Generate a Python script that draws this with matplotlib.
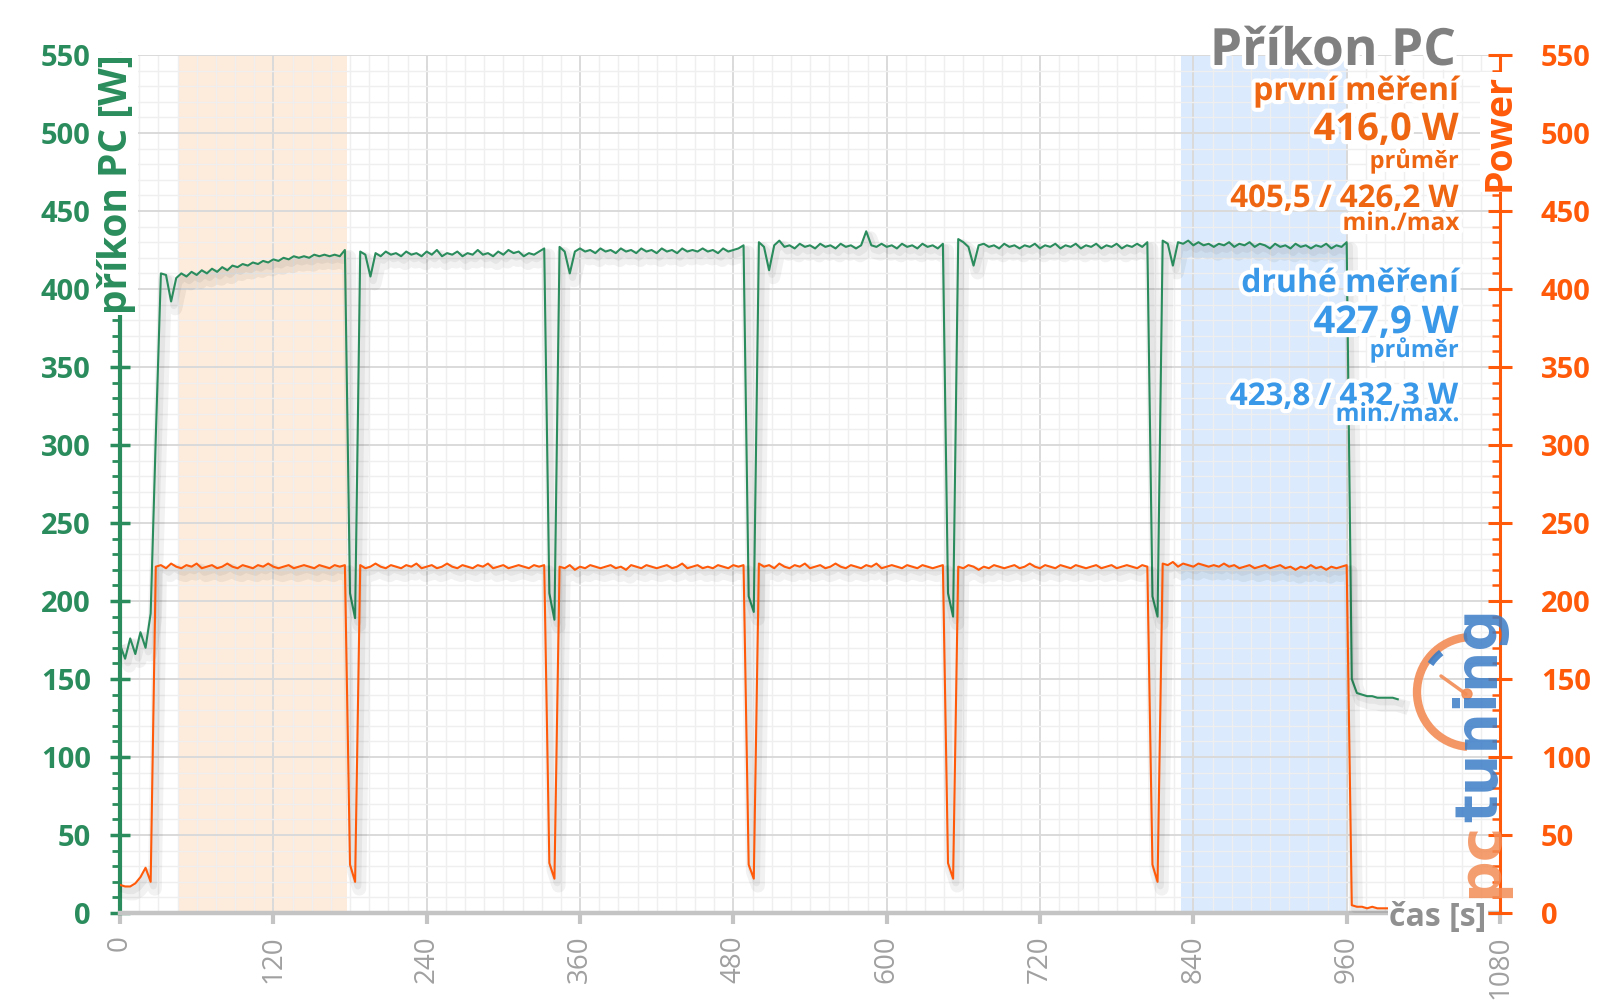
import numpy as np
import matplotlib
matplotlib.use('Agg')
import matplotlib.pyplot as plt
from matplotlib import patheffects as pe
from matplotlib.patches import Arc, Circle
from matplotlib.ticker import MultipleLocator

plt.rcParams['font.family'] = ['Open Sans', 'DejaVu Sans']

# ---------------- data ----------------
sample_step = 4  # seconds between samples

pc_power = (
    [172, 163, 176, 166, 180, 170, 192]
    + [305]
    + [410]
    + [409, 392, 407, 410, 408, 411, 409, 412, 410, 413, 411, 414, 412, 415, 414, 416, 415, 417,
       416, 418, 417, 419, 418, 420, 419, 421, 420, 421, 420, 422, 421, 422, 421, 422, 421, 425]
    + [205, 189]
    + [424, 422, 408, 423, 421, 424, 422, 423, 421, 424, 422, 423, 421, 424, 422, 425, 421, 423,
       422, 424, 421, 423, 422, 425, 422, 423, 421, 424, 422, 425, 423, 424, 421, 423, 422, 424, 426]
    + [205, 188]
    + [427, 424, 410, 424, 426, 424, 425, 423, 426, 424, 425, 423, 426, 424, 425, 423, 426, 424,
       425, 423, 426, 424, 425, 423, 426, 424, 425, 424, 426, 424, 425, 423, 426, 424, 425, 426, 428]
    + [203, 193]
    + [430, 427, 412, 428, 431, 427, 428, 426, 429, 427, 428, 426, 429, 427, 428, 426, 429, 427,
       428, 426, 428, 437, 428, 427, 429, 427, 428, 426, 429, 427, 428, 426, 429, 427, 428, 426, 429]
    + [205, 190]
    + [432, 430, 427, 415, 428, 429, 427, 428, 426, 429, 427, 428, 426, 428, 427, 429, 426, 428,
       427, 429, 426, 428, 427, 429, 426, 428, 427, 429, 426, 428, 427, 429, 426, 428, 427, 429, 427, 430]
    + [203, 190]
    + [431, 429, 415, 430, 429, 431, 428, 430, 428, 429, 427, 429, 428, 430, 427, 429, 428, 430,
       427, 429, 428, 426, 429, 427, 428, 426, 429, 427, 428, 426, 428, 427, 429, 426, 428, 427, 430]
    + [150]
    + [141, 140, 139, 139, 138, 138, 138, 138, 137]
)

gpu_power = (
    [18, 17, 17, 19, 23, 29, 20]
    + [222, 223, 221, 224, 222, 221, 223, 222, 224, 221, 222, 223, 221, 222, 224, 222, 221, 223, 222,
       221, 223, 222, 224, 222, 221, 222, 223, 221, 222, 223, 222, 221, 223, 222, 221, 223, 222, 223]
    + [31, 20]
    + [223, 221, 222, 224, 222, 221, 223, 222, 221, 223, 222, 224, 221, 222, 223, 221, 222, 224,
       222, 221, 223, 222, 221, 223, 222, 224, 221, 222, 223, 221, 222, 223, 222, 221, 223, 222, 223]
    + [32, 22]
    + [222, 221, 223, 220, 222, 221, 223, 222, 221, 222, 223, 221, 222, 220, 223, 222, 221, 223,
       222, 221, 222, 223, 221, 222, 224, 221, 222, 223, 221, 222, 221, 223, 222, 221, 223, 222, 223]
    + [31, 22]
    + [224, 222, 223, 221, 224, 222, 221, 223, 222, 224, 221, 222, 223, 221, 222, 224, 222, 221,
       223, 222, 221, 223, 222, 224, 221, 222, 223, 222, 221, 223, 222, 221, 223, 222, 221, 222, 223]
    + [32, 22]
    + [222, 221, 223, 222, 220, 222, 221, 223, 222, 221, 222, 223, 221, 222, 224, 222, 221, 223, 222,
       221, 223, 222, 221, 223, 222, 221, 222, 223, 221, 222, 223, 221, 222, 223, 222, 221, 223, 222]
    + [31, 20]
    + [224, 223, 225, 222, 224, 223, 222, 224, 223, 222, 223, 222, 224, 222, 223, 221, 222, 223,
       221, 222, 223, 221, 222, 223, 221, 222, 220, 222, 221, 223, 221, 222, 220, 222, 221, 222, 223]
    + [5, 4, 4, 3, 4, 3, 3, 3]
)

t_pc = np.arange(len(pc_power)) * sample_step
t_gpu = np.arange(len(gpu_power)) * sample_step

band_first = (45, 178)     # první měření
band_second = (830, 961)   # druhé měření

x_ticks = [0, 120, 240, 360, 480, 600, 720, 840, 960, 1080]
y_ticks = [0, 50, 100, 150, 200, 250, 300, 350, 400, 450, 500, 550]

title = "Příkon PC"
first_label = "první měření"
first_avg = "416,0 W"
first_minmax = "405,5 / 426,2 W"
second_label = "druhé měření"
second_avg = "427,9 W"
second_minmax = "423,8 / 432,3 W"

# ---------------- style ----------------
GREEN = '#2a8c5c'
ORANGE = '#ff5a0a'
ORANGE_TXT = '#ef6612'
BLUE_TXT = '#3a98e8'
GRAY = '#808080'
AXGRAY = '#c4c4c4'

fig = plt.figure(figsize=(16, 10.08), dpi=100)
fig.patch.set_facecolor('white')
ax = fig.add_axes([120 / 1600, 1 - 913 / 1008, 1380 / 1600, 858 / 1008])
ax2 = ax.twinx()

ax.set_xlim(0, 1080)
ax.set_ylim(0, 550)
ax2.set_ylim(0, 550)

ax.set_axisbelow(True)
ax.axvspan(*band_first, color='#fdebdb', zorder=0.2, lw=0)
ax.axvspan(*band_second, color='#dbeafc', zorder=0.2, lw=0)

ax.xaxis.set_major_locator(MultipleLocator(120))
ax.xaxis.set_minor_locator(MultipleLocator(15))
ax.yaxis.set_major_locator(MultipleLocator(50))
ax.yaxis.set_minor_locator(MultipleLocator(10))
ax2.yaxis.set_major_locator(MultipleLocator(50))
ax2.yaxis.set_minor_locator(MultipleLocator(10))

ax.grid(which='major', color='#dadada', lw=1.4)
ax.grid(which='minor', color='#efefef', lw=1.0)

shadow = [pe.SimpleLineShadow(offset=(3, -5), shadow_color='black', alpha=0.05, linewidth=10),
          pe.SimpleLineShadow(offset=(2, -3), shadow_color='black', alpha=0.05, linewidth=5),
          pe.Normal()]
ax.plot(t_pc, pc_power, color=GREEN, lw=1.5, zorder=3, path_effects=shadow)
ax2.plot(t_gpu, gpu_power, color=ORANGE, lw=1.5, zorder=3, path_effects=shadow)

# spines
for s in ['top', 'right']:
    ax.spines[s].set_visible(False)
ax.spines['left'].set_color(GREEN)
ax.spines['left'].set_linewidth(3)
ax.spines['bottom'].set_color(AXGRAY)
ax.spines['bottom'].set_linewidth(3.2)
for s in ['top', 'left', 'bottom']:
    ax2.spines[s].set_visible(False)
ax2.spines['right'].set_color(ORANGE)
ax2.spines['right'].set_linewidth(2.2)

# ticks
ax.set_xticks(x_ticks)
ax.set_xticklabels([str(v) for v in x_ticks], rotation=90, color='#a0a0a0', fontsize=20)
ax.tick_params(axis='x', which='major', direction='out', length=8, width=3, color=AXGRAY, pad=8)
ax.tick_params(axis='x', which='minor', length=0)

ax.set_yticks(y_ticks)
ax.set_yticklabels([str(v) for v in y_ticks], color=GREEN, fontsize=21, fontweight='bold')
ax.tick_params(axis='y', which='major', direction='inout', length=14, width=2.5, color=GREEN, pad=14)
ax.tick_params(axis='y', which='minor', direction='out', length=6, width=2, color=GREEN)

ax2.set_yticks(y_ticks)
ax2.set_yticklabels([str(v) for v in y_ticks], color=ORANGE, fontsize=21, fontweight='bold')
ax2.tick_params(axis='y', which='major', direction='inout', length=17, width=2.2, color=ORANGE, pad=21)
ax2.tick_params(axis='y', which='minor', direction='in', length=6, width=1.8, color=ORANGE)

# ---------------- overlay (pixel coordinates) ----------------
ov = fig.add_axes([0, 0, 1, 1], zorder=10)
ov.set_xlim(0, 1600)
ov.set_ylim(1008, 0)
ov.axis('off')
ov.patch.set_visible(False)

glow = [pe.withStroke(linewidth=6, foreground='white')]

# axis labels with white backing
ov.text(117, 184, "příkon PC [W]", rotation=90, ha='center', va='center', color=GREEN,
        fontsize=28, fontweight='bold',
        bbox=dict(facecolor='white', edgecolor='none', pad=1))
ov.text(1500, 132, "Power", rotation=90, ha='center', va='center', color=ORANGE,
        fontsize=27, fontweight='bold',
        bbox=dict(facecolor='white', edgecolor='none', pad=1))
ov.text(1438, 917, "čas [s]", ha='center', va='center', color='#909090',
        fontsize=23, fontweight='bold',
        bbox=dict(facecolor='white', edgecolor='none', pad=1))

# title block
RX = 1459
ov.text(RX - 3, 65, title, ha='right', va='baseline', color=GRAY, fontsize=37,
        fontweight='bold', path_effects=glow)
rows = [
    (first_label, 100, 23, ORANGE_TXT),
    (first_avg, 140, 27.5, ORANGE_TXT),
    ("průměr", 168, 17, ORANGE_TXT),
    (first_minmax, 207, 22.5, ORANGE_TXT),
    ("min./max", 230, 17.5, ORANGE_TXT),
    (second_label, 292, 23, BLUE_TXT),
    (second_avg, 333, 27.5, BLUE_TXT),
    ("průměr", 357, 17, BLUE_TXT),
    (second_minmax, 405, 22.5, BLUE_TXT),
    ("min./max.", 421, 17.5, BLUE_TXT),
]
for txt, yb, fs, col in rows:
    ov.text(RX, yb, txt, ha='right', va='baseline', color=col, fontsize=fs,
            fontweight='bold', path_effects=glow)

# pctuning logo (decoration)
LOGO_OR = '#f28c55'
LOGO_BL = '#3b7cc6'
ov.add_patch(Arc((1472, 692), 110, 110, theta1=95, theta2=265, lw=6, color=LOGO_OR, alpha=0.9))
ov.add_patch(Arc((1472, 692), 100, 100, theta1=214, theta2=232, lw=5, color=LOGO_BL, alpha=0.9))
ov.plot([1441, 1466], [676, 694], color=LOGO_OR, lw=2.5, alpha=0.9, solid_capstyle='round')
ov.add_patch(Circle((1467, 694), 5, color=LOGO_OR, alpha=0.9))
ov.text(1497, 898, "pc", rotation=90, rotation_mode='anchor', ha='left', va='baseline',
        color=LOGO_OR, fontsize=42, fontweight='bold', family='DejaVu Sans', alpha=0.85)
ov.text(1497, 822, "tuning", rotation=90, rotation_mode='anchor', ha='left', va='baseline',
        color=LOGO_BL, fontsize=42, fontweight='bold', family='DejaVu Sans', alpha=0.85)

fig.savefig('out.png', dpi=100, facecolor='white')
